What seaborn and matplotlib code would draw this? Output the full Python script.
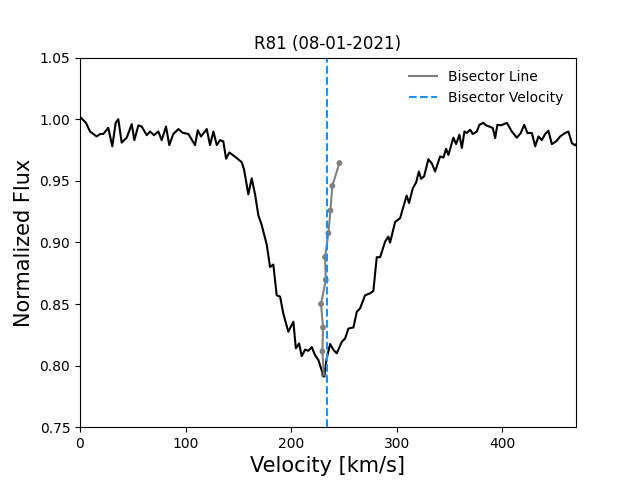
import numpy as np
import matplotlib
matplotlib.use('Agg')
import matplotlib.pyplot as plt
import seaborn as sns

# Spectrum (velocity in km/s, normalized flux)
velocity = [0.0, 5.7, 9.5, 15.8, 19.0, 22.1, 26.8, 30.6, 33.8, 36.3,
            39.5, 44.3, 49.0, 51.5, 55.3, 58.5, 63.2, 66.4, 70.1, 74.2,
            77.4, 81.5, 84.6, 88.4, 93.2, 97.3, 102.7, 109.0, 111.6, 114.7,
            120.1, 123.2, 126.4, 129.6, 132.7, 135.8, 138.4, 141.5, 148.5, 153.3,
            155.5, 159.5, 162.7, 165.9, 169.0, 172.2, 177.0, 180.1, 183.2, 186.4,
            189.6, 192.7, 197.4, 202.2, 204.5, 207.6, 210.1, 213.3, 216.4, 219.6,
            222.7, 225.9, 229.1, 231.3, 233.8, 237.0, 240.3, 243.3, 248.1, 251.2,
            254.3, 259.1, 262.3, 265.4, 270.1, 274.9, 278.0, 281.2, 284.4, 289.1,
            292.2, 293.8, 298.6, 303.3, 307.1, 309.5, 311.8, 315.4, 318.5, 321.1,
            323.2, 326.1, 330.1, 333.6, 336.5, 341.2, 344.4, 346.9, 349.1, 353.8,
            356.4, 359.5, 361.8, 364.3, 366.5, 369.7, 372.2, 376.0, 378.5, 382.3,
            384.8, 388.0, 391.2, 393.4, 395.5, 398.8, 404.5, 409.2, 413.9, 417.7,
            420.9, 424.0, 428.2, 431.3, 434.4, 437.6, 440.8, 443.9, 447.1, 451.2,
            455.0, 459.7, 462.8, 466.1, 469.2, 471.4]
flux = [1.002, 0.997, 0.990, 0.986, 0.988, 0.988, 0.993, 0.978, 0.997, 1.000,
        0.981, 0.985, 0.996, 0.983, 0.995, 0.994, 0.987, 0.990, 0.987, 0.990,
        0.983, 0.994, 0.979, 0.988, 0.992, 0.989, 0.988, 0.979, 0.991, 0.986,
        0.992, 0.979, 0.990, 0.979, 0.983, 0.982, 0.968, 0.973, 0.9685, 0.965,
        0.959, 0.939, 0.952, 0.939, 0.922, 0.914, 0.898, 0.880, 0.882, 0.857,
        0.856, 0.842, 0.8275, 0.8356, 0.814, 0.818, 0.8077, 0.813, 0.812, 0.815,
        0.8085, 0.8045, 0.796, 0.7915, 0.806, 0.8175, 0.8126, 0.810, 0.8193, 0.822,
        0.830, 0.831, 0.8437, 0.8465, 0.857, 0.8587, 0.8606, 0.888, 0.888, 0.9006,
        0.9047, 0.8998, 0.9166, 0.9196, 0.931, 0.938, 0.932, 0.944, 0.9486, 0.9575,
        0.9516, 0.9537, 0.9675, 0.9638, 0.9575, 0.9698, 0.9689, 0.976, 0.971, 0.985,
        0.9798, 0.9874, 0.9766, 0.990, 0.9888, 0.9915, 0.988, 0.990, 0.9955, 0.997,
        0.995, 0.994, 0.9928, 0.9847, 0.9955, 0.995, 0.997, 0.990, 0.985, 0.9888,
        0.9955, 0.9888, 0.9888, 0.978, 0.986, 0.983, 0.988, 0.9906, 0.9798, 0.982,
        0.986, 0.9888, 0.990, 0.9806, 0.9787, 0.981]

# Bisector points
bis_velocity = [245.8, 239.1, 237.3, 235.4, 232.2, 232.9, 228.4, 230.3, 229.7, 231.0]
bis_flux = [0.9644, 0.9459, 0.9259, 0.9075, 0.888, 0.8695, 0.850, 0.831, 0.8115, 0.7925]
bisector_velocity = 234.1

fig, ax = plt.subplots(figsize=(6.4, 4.8), dpi=100)

sns.lineplot(x=velocity, y=flux, color='black', linewidth=1.5, sort=False, ax=ax)
sns.lineplot(x=bis_velocity, y=bis_flux, color='gray', linewidth=1.5, sort=False,
             label='Bisector Line', ax=ax)
sns.scatterplot(x=bis_velocity, y=bis_flux, color='gray', s=18, edgecolor='none', ax=ax)
ax.axvline(bisector_velocity, color='dodgerblue', linestyle='--', linewidth=1.5,
           label='Bisector Velocity')

ax.set_xlim(0, 470)
ax.set_ylim(0.75, 1.05)
ax.set_title('R81 (08-01-2021)')
ax.set_xlabel('Velocity [km/s]', fontsize=15)
ax.set_ylabel('Normalized Flux', fontsize=15)
ax.legend(loc='upper right', frameon=False)

plt.savefig('out.png', dpi=100)
